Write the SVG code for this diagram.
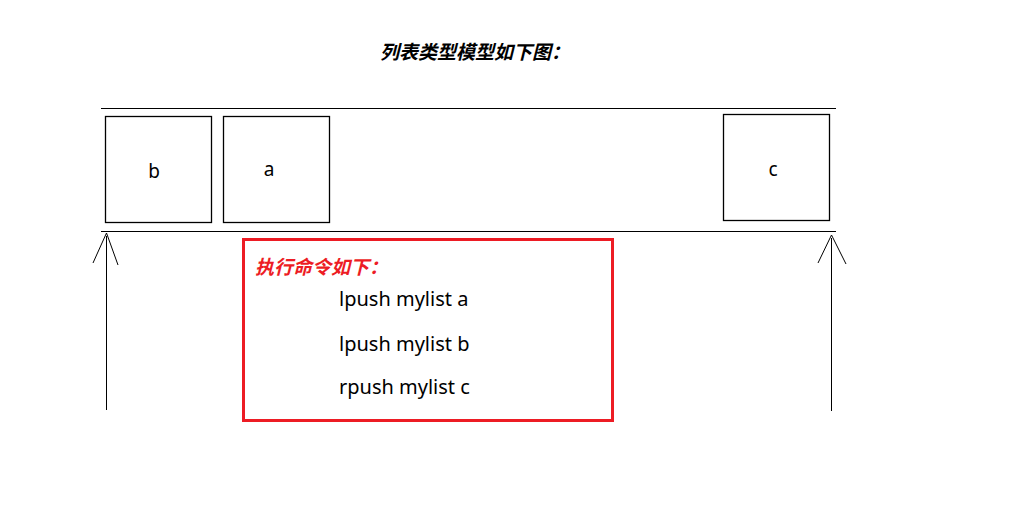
<svg xmlns="http://www.w3.org/2000/svg" width="1014" height="505" viewBox="0 0 1014 505">
<style>
.ln{stroke:#000;stroke-width:1;fill:none}
.node rect{fill:#fff;stroke:#000;stroke-width:1.3}
.lbl{font-family:"Noto Sans","Noto Sans CJK SC",sans-serif;font-size:19px;fill:#000;text-anchor:middle}
.cmd{font-family:"Noto Sans","Noto Sans CJK SC",sans-serif;font-size:20px;fill:#000}
.cjk{font-family:"Noto Sans CJK SC",sans-serif;font-weight:bold;font-style:italic;font-size:19px}
</style>
<rect width="1014" height="505" fill="#fff"/>
<text class="cjk" x="380" y="59" fill="#000">列表类型模型如下图：</text>
<g id="rails">
<line class="ln" x1="101" y1="108.5" x2="836" y2="108.5"/>
<line class="ln" x1="101" y1="231.5" x2="836" y2="231.5"/>
</g>
<g id="node-b" class="node"><rect x="105.5" y="116.5" width="106" height="106"/><text class="lbl" x="154" y="178">b</text></g>
<g id="node-a" class="node"><rect x="223.5" y="116.5" width="106" height="106"/><text class="lbl" x="269" y="176">a</text></g>
<g id="node-c" class="node"><rect x="723.5" y="114.5" width="106" height="106"/><text class="lbl" x="773" y="176">c</text></g>
<g id="connectors">
<line class="ln" x1="106.5" y1="236" x2="106.5" y2="410"/>
<polyline class="ln" points="93,263 106.5,233 118,265"/>
<line class="ln" x1="831.5" y1="238" x2="831.5" y2="411"/>
<polyline class="ln" points="818,263 831.5,235 846,264"/>
</g>
<g id="commands">
<rect x="243.5" y="239.5" width="369" height="181" fill="none" stroke="#ed1c24" stroke-width="3"/>
<text class="cjk" x="255" y="274" fill="#ed1c24">执行命令如下：</text>
<text class="cmd" x="339" y="306">lpush mylist a</text>
<text class="cmd" x="339" y="351">lpush mylist b</text>
<text class="cmd" x="339" y="394">rpush mylist c</text>
</g>
</svg>
